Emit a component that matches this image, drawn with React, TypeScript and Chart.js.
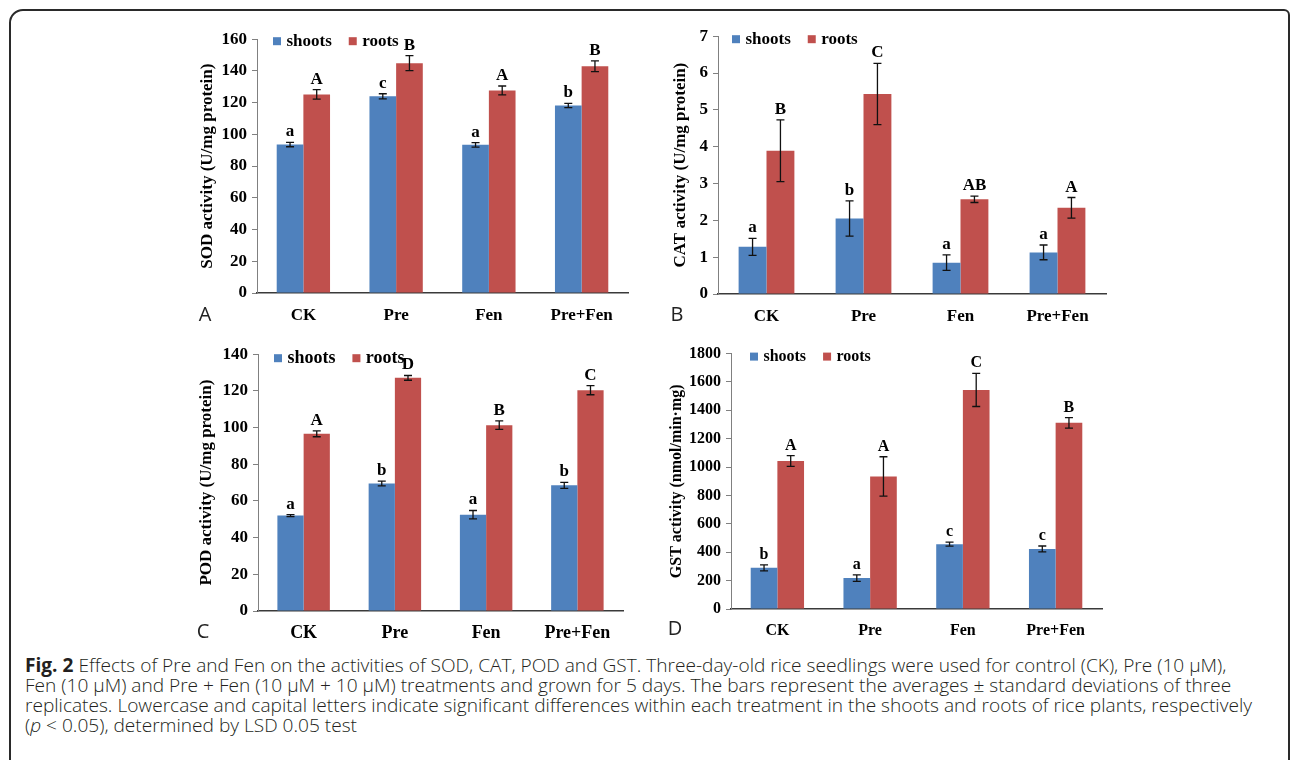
import React, { useEffect, useRef } from "react";
import { Chart, registerables } from "chart.js";

Chart.register(...registerables);

// ---------- data ----------
const categories = ["CK", "Pre", "Fen", "Pre+Fen"];
const seriesNames = ["shoots", "roots"];

const sodShoots = [93.6, 124.0, 93.4, 118.2];
const sodShootsErr = [1.4, 1.6, 1.4, 1.3];
const sodRoots = [125.2, 144.9, 127.7, 142.9];
const sodRootsErr = [3.0, 4.7, 2.8, 3.4];
const sodShootsLetters = ["a", "c", "a", "b"];
const sodRootsLetters = ["A", "B", "A", "B"];

const catShoots = [1.28, 2.05, 0.85, 1.13];
const catShootsErr = [0.23, 0.48, 0.21, 0.2];
const catRoots = [3.89, 5.43, 2.57, 2.34];
const catRootsErr = [0.84, 0.83, 0.085, 0.28];
const catShootsLetters = ["a", "b", "a", "a"];
const catRootsLetters = ["B", "C", "AB", "A"];

const podShoots = [52.0, 69.5, 52.5, 68.5];
const podShootsErr = [0.5, 1.3, 2.3, 1.6];
const podRoots = [96.6, 127.1, 101.3, 120.4];
const podRootsErr = [1.6, 1.3, 2.3, 2.5];
const podShootsLetters = ["a", "b", "a", "b"];
const podRootsLetters = ["A", "D", "B", "C"];

const gstShoots = [290, 218, 457, 423];
const gstShootsErr = [21, 23, 14, 21];
const gstRoots = [1043, 934, 1544, 1312];
const gstRootsErr = [38, 139, 117, 37];
const gstShootsLetters = ["b", "a", "c", "c"];
const gstRootsLetters = ["A", "A", "C", "B"];

const sodAxis = { max: 160, step: 20, title: "SOD activity (U/mg protein)" };
const catAxis = { max: 7, step: 1, title: "CAT activity (U/mg protein)" };
const podAxis = { max: 140, step: 20, title: "POD activity (U/mg protein)" };
const gstAxis = { max: 1800, step: 200, title: "GST activity (nmol/min·mg)" };

const captionLines = [
  "Effects of Pre and Fen on the activities of SOD, CAT, POD and GST. Three-day-old rice seedlings were used for control (CK), Pre (10\u00a0µM),",
  "Fen (10\u00a0µM) and Pre\u00a0+\u00a0Fen (10\u00a0µM\u00a0+\u00a010\u00a0µM) treatments and grown for 5 days. The bars represent the averages ± standard deviations of three",
  "replicates. Lowercase and capital letters indicate significant differences within each treatment in the shoots and roots of rice plants, respectively",
];

// ---------- styling ----------
const BLUE = "#4F81BD";
const RED = "#C0504D";
const SERIF = "'Liberation Serif', 'Times New Roman', serif";

const annotPlugin = {
  id: "annot",
  afterDatasetsDraw(chart: any, _args: any, opts: any) {
    const ctx = chart.ctx;
    const ys = chart.scales.y;
    const fs = opts.fontSize;
    chart.data.datasets.forEach((ds: any, di: number) => {
      const meta = chart.getDatasetMeta(di);
      meta.data.forEach((bar: any, i: number) => {
        const v = ds.data[i];
        const e = ds.errors[i];
        const yTop = ys.getPixelForValue(v + e);
        const yBot = ys.getPixelForValue(v - e);
        const x = bar.x;
        ctx.save();
        ctx.strokeStyle = "#111";
        ctx.lineWidth = 1.3;
        ctx.beginPath();
        ctx.moveTo(x, yTop);
        ctx.lineTo(x, yBot);
        ctx.moveTo(x - 4, yTop);
        ctx.lineTo(x + 4, yTop);
        ctx.moveTo(x - 4, yBot);
        ctx.lineTo(x + 4, yBot);
        ctx.stroke();
        ctx.font = `bold ${fs}px ${SERIF}`;
        ctx.textAlign = "center";
        ctx.textBaseline = "alphabetic";
        ctx.fillStyle = "#000";
        ctx.fillText(ds.letters[i], x, yTop - 6);
        ctx.restore();
      });
    });
    // legend
    const area = chart.chartArea;
    let lx = area.left + opts.legendDx;
    const yc = area.top + opts.legendDy;
    ctx.save();
    ctx.font = `bold ${opts.legendSize}px ${SERIF}`;
    ctx.textBaseline = "middle";
    ctx.textAlign = "left";
    chart.data.datasets.forEach((ds: any) => {
      ctx.fillStyle = ds.backgroundColor;
      ctx.fillRect(lx, yc - 4, 8, 8);
      ctx.fillStyle = "#000";
      ctx.fillText(ds.label, lx + 13.4, yc);
      lx += 13.4 + ctx.measureText(ds.label).width + 17;
    });
    ctx.restore();
  },
};

type PanelProps = {
  left: number;
  top: number;
  width: number;
  height: number;
  yWidth: number;
  xHeight: number;
  padTop: number;
  padRight: number;
  axis: { max: number; step: number; title: string };
  shoots: number[];
  shootsErr: number[];
  roots: number[];
  rootsErr: number[];
  shootsLetters: string[];
  rootsLetters: string[];
  fontSize: number;
  catSize: number;
  legendSize: number;
  legendDx: number;
  legendDy: number;
};

function Panel(p: PanelProps) {
  const ref = useRef<HTMLCanvasElement | null>(null);
  useEffect(() => {
    if (!ref.current) return;
    const font = { family: SERIF, size: p.fontSize, weight: "bold" as const, lineHeight: 1.2 };
    const chart = new Chart(ref.current, {
      type: "bar",
      data: {
        labels: categories,
        datasets: [
          {
            label: seriesNames[0],
            data: p.shoots,
            backgroundColor: BLUE,
            errors: p.shootsErr,
            letters: p.shootsLetters,
          } as any,
          {
            label: seriesNames[1],
            data: p.roots,
            backgroundColor: RED,
            errors: p.rootsErr,
            letters: p.rootsLetters,
          } as any,
        ],
      },
      options: {
        responsive: false,
        animation: false,
        devicePixelRatio: 1,
        layout: { padding: { top: p.padTop, right: p.padRight, left: 0, bottom: 0 } },
        datasets: { bar: { categoryPercentage: 0.575, barPercentage: 1 } },
        plugins: {
          legend: { display: false },
          tooltip: { enabled: false },
          annot: {
            fontSize: p.fontSize,
            legendSize: p.legendSize,
            legendDx: p.legendDx,
            legendDy: p.legendDy,
          },
        } as any,
        scales: {
          x: {
            z: 1,
            grid: { display: false, drawTicks: false },
            border: { display: true, color: "#3a3a3a", width: 1.5 },
            ticks: {
              color: "#000",
              font: { ...font, size: p.catSize },
              padding: 12,
              maxRotation: 0,
            },
            afterFit: (s: any) => {
              s.height = p.xHeight;
            },
          },
          y: {
            min: 0,
            max: p.axis.max,
            ticks: {
              stepSize: p.axis.step,
              color: "#000",
              font,
              padding: 5,
              callback: (v: any) => String(v),
            },
            grid: { drawOnChartArea: false, drawTicks: true, tickLength: 5, color: "#808080" },
            border: { display: true, color: "#808080", width: 1 },
            title: {
              display: true,
              text: p.axis.title,
              color: "#000",
              font,
              padding: { top: 0, bottom: 0 },
            },
            afterFit: (s: any) => {
              s.width = p.yWidth;
            },
          },
        },
      },
      plugins: [annotPlugin as any],
    });
    return () => chart.destroy();
  }, []);
  return (
    <canvas
      ref={ref}
      width={p.width}
      height={p.height}
      style={{ position: "absolute", left: p.left, top: p.top, width: p.width, height: p.height, display: "block" }}
    />
  );
}

const panelLetterStyle: React.CSSProperties = {
  position: "absolute",
  fontFamily: "'Open Sans', sans-serif",
  fontSize: 20,
  color: "#222",
  lineHeight: "20px",
  transform: "translate(-50%, -50%)",
};

const captionStyle: React.CSSProperties = {
  position: "absolute",
  left: 25,
  fontFamily: "'Open Sans', sans-serif",
  fontSize: 19.1,
  fontWeight: 300,
  color: "#231f20",
  whiteSpace: "nowrap",
  lineHeight: "20px",
};

export default function App() {
  return (
    <div
      style={{
        position: "absolute",
        left: 0,
        top: 0,
        width: 1292,
        height: 760,
        overflow: "hidden",
        background: "#fff",
      }}
    >
      <div
        style={{
          position: "absolute",
          left: 9,
          top: 9,
          width: 1277,
          height: 820,
          border: "2px solid #2a2a2a",
          borderTopLeftRadius: 14,
          borderTopRightRadius: 6,
        }}
      />
      <Panel
        left={197} top={24} width={441} height={304} yWidth={60} xHeight={35} padTop={12} padRight={10}
        axis={sodAxis} shoots={sodShoots} shootsErr={sodShootsErr} roots={sodRoots} rootsErr={sodRootsErr}
        shootsLetters={sodShootsLetters} rootsLetters={sodRootsLetters}
        fontSize={17} catSize={17} legendSize={17} legendDx={16} legendDy={2}
      />
      <Panel
        left={670} top={21} width={446} height={308} yWidth={48} xHeight={35} padTop={12} padRight={10}
        axis={catAxis} shoots={catShoots} shootsErr={catShootsErr} roots={catRoots} rootsErr={catRootsErr}
        shootsLetters={catShootsLetters} rootsLetters={catRootsLetters}
        fontSize={17} catSize={17} legendSize={17} legendDx={14} legendDy={3}
      />
      <Panel
        left={196} top={339} width={437} height={307} yWidth={62} xHeight={35} padTop={12} padRight={10}
        axis={podAxis} shoots={podShoots} shootsErr={podShootsErr} roots={podRoots} rootsErr={podRootsErr}
        shootsLetters={podShootsLetters} rootsLetters={podRootsLetters}
        fontSize={17} catSize={18} legendSize={18} legendDx={16} legendDy={4}
      />
      <Panel
        left={667} top={339} width={445} height={305} yWidth={64} xHeight={35} padTop={12} padRight={10}
        axis={gstAxis} shoots={gstShoots} shootsErr={gstShootsErr} roots={gstRoots} rootsErr={gstRootsErr}
        shootsLetters={gstShootsLetters} rootsLetters={gstRootsLetters}
        fontSize={16} catSize={16} legendSize={16} legendDx={19} legendDy={3}
      />
      <div style={{ ...panelLetterStyle, left: 205, top: 314 }}>A</div>
      <div style={{ ...panelLetterStyle, left: 677, top: 314 }}>B</div>
      <div style={{ ...panelLetterStyle, left: 203, top: 631 }}>C</div>
      <div style={{ ...panelLetterStyle, left: 675, top: 628 }}>D</div>

      <div style={{ ...captionStyle, top: 654.5 }}>
        <b style={{ fontWeight: 700 }}>Fig. 2</b> {captionLines[0]}
      </div>
      <div style={{ ...captionStyle, top: 674.5 }}>{captionLines[1]}</div>
      <div style={{ ...captionStyle, top: 694.5 }}>{captionLines[2]}</div>
      <div style={{ ...captionStyle, top: 714.5 }}>
        (<i>p</i>{"\u00a0<\u00a0"}0.05), determined by LSD 0.05 test
      </div>
    </div>
  );
}
